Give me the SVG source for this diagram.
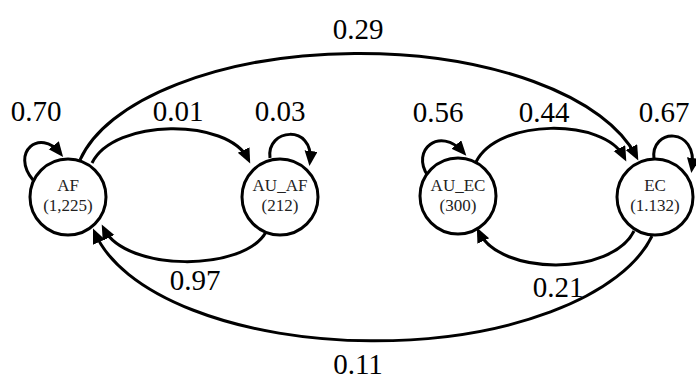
<svg xmlns="http://www.w3.org/2000/svg" width="696" height="382" viewBox="0 0 696 382">
<defs>
<marker id="ah" markerUnits="userSpaceOnUse" markerWidth="16" markerHeight="14" refX="10" refY="6.5" orient="auto">
<path d="M0,0 L15,6.5 L0,13 z" fill="#000"/>
</marker>
<style>
.node circle{fill:#fff;stroke:#000;stroke-width:3}
.node text{font-family:"Liberation Serif",serif;font-size:17px;fill:#222;text-anchor:middle}
.edge{fill:none;stroke:#000;stroke-width:3;marker-end:url(#ah)}
.lbl{font-family:"Liberation Serif",serif;font-size:29px;fill:#000;text-anchor:middle}
</style>
</defs>
<rect width="696" height="382" fill="#fff"/>
<g id="connectors">
<path class="edge" d="M80,160 A285,134 0 0 1 636,156"/>
<path class="edge" d="M652,236 A285,135 0 0 1 95,233"/>
<path class="edge" d="M92,163 C114,118 228,118 248,159"/>
<path class="edge" d="M266,232 C244,272 126,272 104,229"/>
<path class="edge" d="M476,162 C498,118 604,118 624,157"/>
<path class="edge" d="M634,231 C612,276 500,276 479,232"/>
<path class="edge" d="M33,180 C10,152 40,128 60,153"/>
<path class="edge" d="M270,158 C266,128 314,124 310,161"/>
<path class="edge" d="M428,176 C410,150 440,126 463,152"/>
<path class="edge" d="M654,159 C650,128 698,126 692,168"/>
</g>
<g id="n-AF" class="node"><circle cx="68" cy="197" r="38"/><text x="68" y="191">AF</text><text x="68" y="211">(1,225)</text></g>
<g id="n-AU_AF" class="node"><circle cx="280" cy="197" r="38"/><text x="280" y="191">AU_AF</text><text x="280" y="211">(212)</text></g>
<g id="n-AU_EC" class="node"><circle cx="458" cy="196" r="38"/><text x="458" y="191">AU_EC</text><text x="458" y="211">(300)</text></g>
<g id="n-EC" class="node"><circle cx="655" cy="197" r="38"/><text x="655" y="191">EC</text><text x="655" y="211">(1.132)</text></g>
<g id="labels">
<text class="lbl" x="358" y="39">0.29</text>
<text class="lbl" x="36" y="121">0.70</text>
<text class="lbl" x="178" y="121">0.01</text>
<text class="lbl" x="280" y="121">0.03</text>
<text class="lbl" x="438" y="122">0.56</text>
<text class="lbl" x="544" y="122">0.44</text>
<text class="lbl" x="664" y="122">0.67</text>
<text class="lbl" x="195" y="290">0.97</text>
<text class="lbl" x="558" y="297">0.21</text>
<text class="lbl" x="358" y="374">0.11</text>
</g>
</svg>
